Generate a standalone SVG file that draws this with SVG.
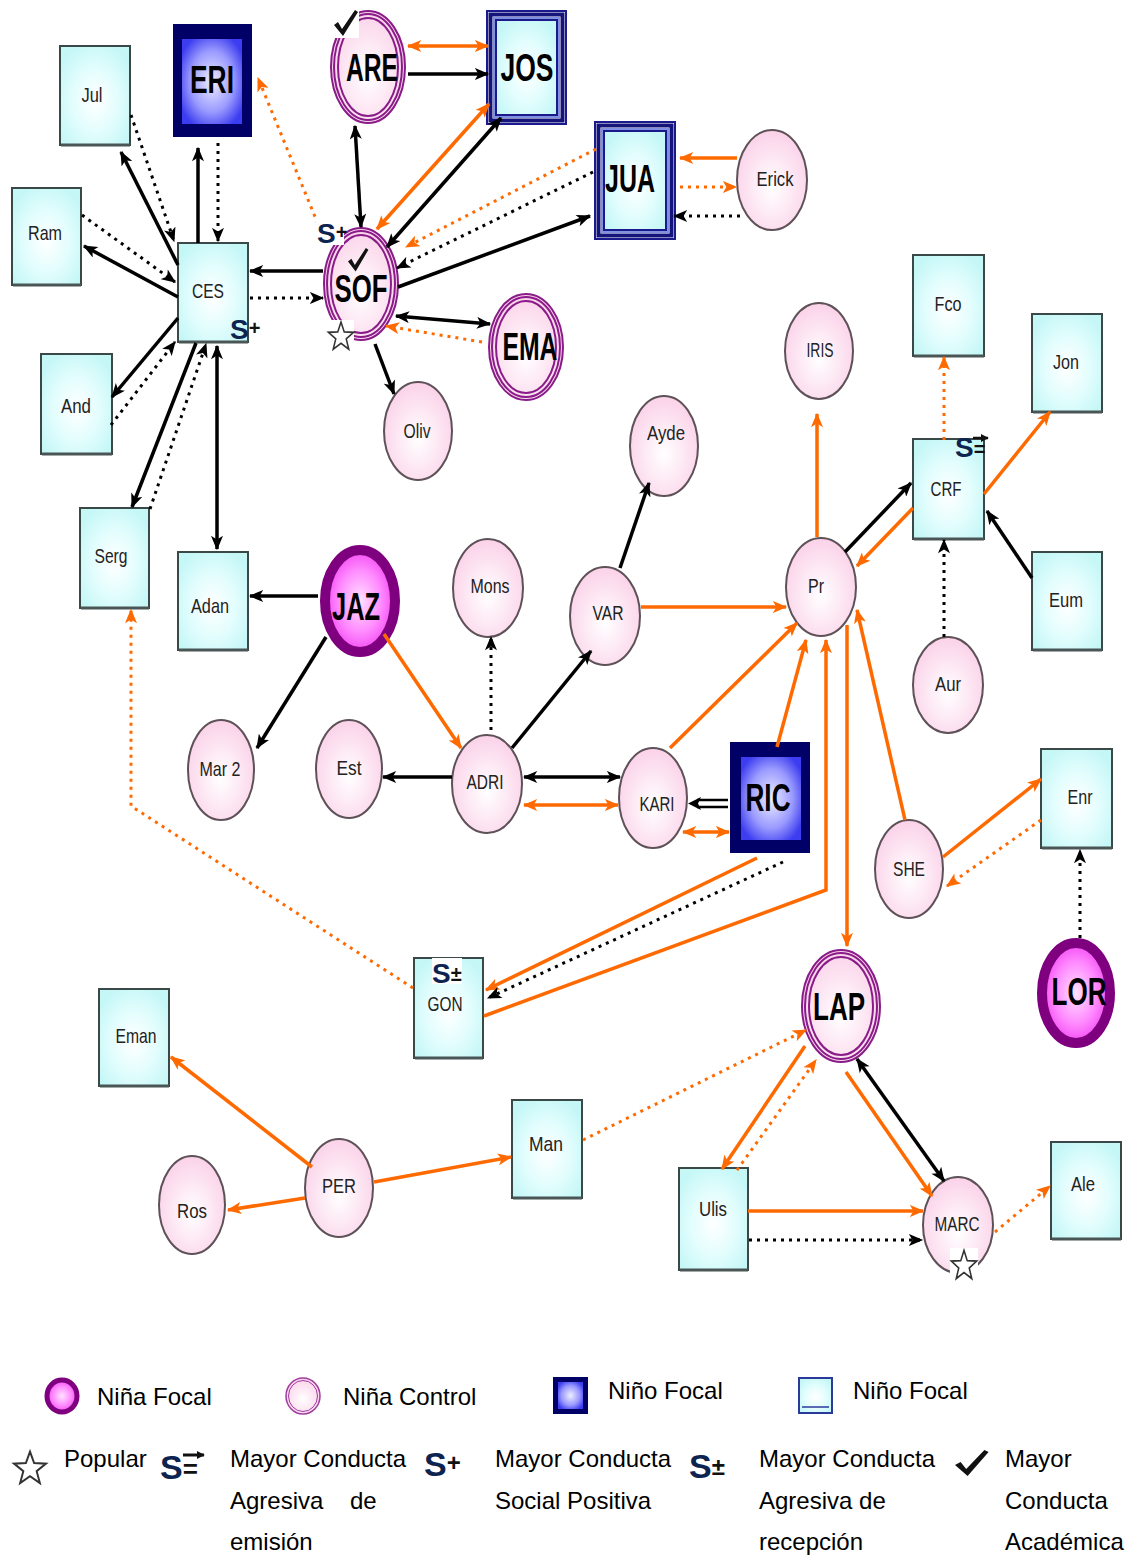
<svg xmlns="http://www.w3.org/2000/svg" xmlns:xlink="http://www.w3.org/1999/xlink" width="1133" height="1555" viewBox="0 0 1133 1555">
  <defs>
    <radialGradient id="gc" cx="50%" cy="55%" r="60%">
      <stop offset="0" stop-color="#ffffff"/>
      <stop offset="0.55" stop-color="#e2fdfd"/>
      <stop offset="1" stop-color="#c6f7f7"/>
    </radialGradient>
    <radialGradient id="gp" cx="50%" cy="58%" r="55%">
      <stop offset="0" stop-color="#ffffff"/>
      <stop offset="1" stop-color="#fbd4ea"/>
    </radialGradient>
    <radialGradient id="gm" cx="50%" cy="50%" r="55%">
      <stop offset="0" stop-color="#ffe2ff"/>
      <stop offset="0.55" stop-color="#ff8cff"/>
      <stop offset="1" stop-color="#f03cf0"/>
    </radialGradient>
    <radialGradient id="gn" cx="50%" cy="50%" r="60%">
      <stop offset="0" stop-color="#eeeeff"/>
      <stop offset="0.6" stop-color="#9a9aff"/>
      <stop offset="1" stop-color="#3c3cf0"/>
    </radialGradient>
    <marker id="ab" viewBox="0 0 12 10" refX="11" refY="5" markerWidth="15" markerHeight="12" markerUnits="userSpaceOnUse" orient="auto-start-reverse">
      <path d="M0,0 L12,5 L0,10 L3,5 z" fill="#000"/>
    </marker>
    <marker id="ao" viewBox="0 0 12 10" refX="11" refY="5" markerWidth="15" markerHeight="12" markerUnits="userSpaceOnUse" orient="auto-start-reverse">
      <path d="M0,0 L12,5 L0,10 L3,5 z" fill="#ff6a00"/>
    </marker>
    <marker id="as" viewBox="0 0 10 10" refX="9" refY="5" markerWidth="8" markerHeight="8" markerUnits="userSpaceOnUse" orient="auto">
      <path d="M0,0 L10,5 L0,10 z" fill="#111"/>
    </marker>
    <polygon id="star" points="0,-12 2.94,-4.05 11.41,-3.71 4.76,1.55 7.05,9.71 0,5 -7.05,9.71 -4.76,1.55 -11.41,-3.71 -2.94,-4.05" fill="#fff" stroke="#333" stroke-width="1.4" stroke-linejoin="miter"/>
    <path id="chk" d="M0,15 L4,12 L8,19 L21,0 L24,2 L9,26 Z" fill="#111"/>
    <style>
      .box rect.b { fill: url(#gc); stroke: #3b4848; stroke-width: 2; }
      .box line { stroke: #4a5555; stroke-width: 3; }
      .ctl ellipse { fill: url(#gp); stroke: #5e5258; stroke-width: 2; }
      .dbl ellipse { fill: none; stroke: #8a1c8a; stroke-width: 2; }
      .dbl ellipse.f { fill: url(#gp); }
      .foc ellipse { fill: url(#gm); stroke: #7f007f; stroke-width: 10; }
      .navy rect.o { fill: #000066; }
      .navy rect.i { fill: url(#gn); }
      .lbl { font-family: "Liberation Sans", Arial, sans-serif; font-size: 21px; fill: #222; text-anchor: middle; }
      .big { font-family: "Liberation Sans", Arial, sans-serif; font-weight: bold; font-size: 38px; fill: #000; text-anchor: middle; }
      .leg { font-family: "Liberation Sans", Arial, sans-serif; font-size: 24px; fill: #000; }
      .sg { font-family: "Liberation Sans", Arial, sans-serif; font-weight: bold; font-size: 28px; fill: #0d2350; }
      .sgl { font-size: 34px; }
      .sm { font-family: "Liberation Sans", Arial, sans-serif; font-weight: bold; font-size: 20px; fill: #111; }
      .sa { fill: none; stroke: #111; stroke-width: 2.5; marker-end: url(#as); }
      .k { fill: none; stroke: #000; stroke-width: 3.5; marker-end: url(#ab); }
      .kd { fill: none; stroke: #000; stroke-width: 3; stroke-dasharray: 3 5; marker-end: url(#ab); }
      .r { fill: none; stroke: #ff6a00; stroke-width: 3.5; marker-end: url(#ao); }
      .rd { fill: none; stroke: #ff6a00; stroke-width: 3; stroke-dasharray: 3 5; marker-end: url(#ao); }
      .k2 { marker-start: url(#ab); }
      .r2 { marker-start: url(#ao); }
    </style>
  </defs>

  <rect x="0" y="0" width="1133" height="1555" fill="#fff"/>

  <!-- boys (control): light cyan boxes -->
  <g id="n-jul" class="box"><rect class="b" x="60" y="46" width="70" height="99"/><line x1="61" y1="145" x2="130" y2="145"/><text class="lbl" x="92" y="102" textLength="21" lengthAdjust="spacingAndGlyphs">Jul</text></g>
  <g id="n-ram" class="box"><rect class="b" x="12" y="188" width="69" height="97"/><line x1="13" y1="285" x2="81" y2="285"/><text class="lbl" x="45" y="240" textLength="34" lengthAdjust="spacingAndGlyphs">Ram</text></g>
  <g id="n-ces" class="box"><rect class="b" x="178" y="243" width="70" height="99"/><line x1="179" y1="342" x2="248" y2="342"/><text class="lbl" x="208" y="298" textLength="32" lengthAdjust="spacingAndGlyphs">CES</text></g>
  <g id="n-and" class="box"><rect class="b" x="41" y="354" width="71" height="100"/><line x1="42" y1="454" x2="112" y2="454"/><text class="lbl" x="76" y="413" textLength="30" lengthAdjust="spacingAndGlyphs">And</text></g>
  <g id="n-serg" class="box"><rect class="b" x="80" y="508" width="69" height="100"/><line x1="81" y1="608" x2="149" y2="608"/><text class="lbl" x="111" y="563" textLength="33" lengthAdjust="spacingAndGlyphs">Serg</text></g>
  <g id="n-adan" class="box"><rect class="b" x="178" y="552" width="70" height="98"/><line x1="179" y1="650" x2="248" y2="650"/><text class="lbl" x="210" y="613" textLength="38" lengthAdjust="spacingAndGlyphs">Adan</text></g>
  <g id="n-fco" class="box"><rect class="b" x="913" y="255" width="71" height="101"/><line x1="914" y1="356" x2="984" y2="356"/><text class="lbl" x="948" y="311" textLength="27" lengthAdjust="spacingAndGlyphs">Fco</text></g>
  <g id="n-jon" class="box"><rect class="b" x="1032" y="314" width="70" height="98"/><line x1="1033" y1="412" x2="1102" y2="412"/><text class="lbl" x="1066" y="369" textLength="26" lengthAdjust="spacingAndGlyphs">Jon</text></g>
  <g id="n-crf" class="box"><rect class="b" x="913" y="439" width="71" height="100"/><line x1="914" y1="539" x2="984" y2="539"/><text class="lbl" x="946" y="496" textLength="31" lengthAdjust="spacingAndGlyphs">CRF</text></g>
  <g id="n-eum" class="box"><rect class="b" x="1032" y="552" width="70" height="98"/><line x1="1033" y1="650" x2="1102" y2="650"/><text class="lbl" x="1066" y="607" textLength="34" lengthAdjust="spacingAndGlyphs">Eum</text></g>
  <g id="n-enr" class="box"><rect class="b" x="1041" y="749" width="71" height="99"/><line x1="1042" y1="848" x2="1112" y2="848"/><text class="lbl" x="1080" y="804" textLength="25" lengthAdjust="spacingAndGlyphs">Enr</text></g>
  <g id="n-gon" class="box"><rect class="b" x="414" y="958" width="69" height="100"/><line x1="415" y1="1058" x2="483" y2="1058"/><text class="lbl" x="445" y="1011" textLength="35" lengthAdjust="spacingAndGlyphs">GON</text></g>
  <g id="n-eman" class="box"><rect class="b" x="99" y="989" width="70" height="97"/><line x1="100" y1="1086" x2="169" y2="1086"/><text class="lbl" x="136" y="1043" textLength="41" lengthAdjust="spacingAndGlyphs">Eman</text></g>
  <g id="n-man" class="box"><rect class="b" x="512" y="1100" width="70" height="98"/><line x1="513" y1="1198" x2="582" y2="1198"/><text class="lbl" x="546" y="1151" textLength="34" lengthAdjust="spacingAndGlyphs">Man</text></g>
  <g id="n-ulis" class="box"><rect class="b" x="679" y="1168" width="69" height="102"/><line x1="680" y1="1270" x2="748" y2="1270"/><text class="lbl" x="713" y="1216" textLength="28" lengthAdjust="spacingAndGlyphs">Ulis</text></g>
  <g id="n-ale" class="box"><rect class="b" x="1051" y="1142" width="70" height="97"/><line x1="1052" y1="1239" x2="1121" y2="1239"/><text class="lbl" x="1083" y="1191" textLength="24" lengthAdjust="spacingAndGlyphs">Ale</text></g>

  <!-- boys (focal): navy boxes -->
  <g id="n-eri" class="navy"><rect class="o" x="173" y="24" width="79" height="113"/><rect class="i" x="182" y="39" width="60" height="85"/><text class="big" x="212" y="93" textLength="44" lengthAdjust="spacingAndGlyphs">ERI</text></g>
  <g id="n-ric" class="navy"><rect class="o" x="730" y="742" width="80" height="111"/><rect class="i" x="741" y="757" width="60" height="83"/><text class="big" x="768" y="811" textLength="45" lengthAdjust="spacingAndGlyphs">RIC</text></g>

  <!-- boys (focal): double blue frame -->
  <g id="n-jos">
    <rect x="487" y="11" width="79" height="113" fill="none" stroke="#1a1a8c" stroke-width="2"/>
    <rect x="490.5" y="14.5" width="72" height="106" fill="none" stroke="#14147a" stroke-width="4"/>
    <rect x="494" y="18" width="65" height="99" fill="none" stroke="#7f90e0" stroke-width="2"/>
    <rect x="496" y="20" width="61" height="95" fill="url(#gc)" stroke="#1a1a8c" stroke-width="2"/>
    <text class="big" x="527" y="81" textLength="53" lengthAdjust="spacingAndGlyphs">JOS</text>
  </g>
  <g id="n-jua">
    <rect x="595" y="122" width="80" height="117" fill="none" stroke="#1a1a8c" stroke-width="2"/>
    <rect x="598.5" y="125.5" width="73" height="110" fill="none" stroke="#14147a" stroke-width="4"/>
    <rect x="602" y="129" width="66" height="103" fill="none" stroke="#7f90e0" stroke-width="2"/>
    <rect x="604" y="131" width="62" height="99" fill="url(#gc)" stroke="#1a1a8c" stroke-width="2"/>
    <text class="big" x="630" y="192" textLength="50" lengthAdjust="spacingAndGlyphs">JUA</text>
  </g>

  <!-- girls (control): pink ellipses -->
  <g id="n-erick" class="ctl"><ellipse cx="772" cy="180" rx="35" ry="50"/><text class="lbl" x="775" y="186" textLength="37" lengthAdjust="spacingAndGlyphs">Erick</text></g>
  <g id="n-oliv" class="ctl"><ellipse cx="418" cy="431" rx="34" ry="49"/><text class="lbl" x="417" y="438" textLength="27" lengthAdjust="spacingAndGlyphs">Oliv</text></g>
  <g id="n-mons" class="ctl"><ellipse cx="488" cy="588" rx="35" ry="49"/><text class="lbl" x="490" y="593" textLength="39" lengthAdjust="spacingAndGlyphs">Mons</text></g>
  <g id="n-var" class="ctl"><ellipse cx="605" cy="616" rx="35" ry="49"/><text class="lbl" x="608" y="620" textLength="31" lengthAdjust="spacingAndGlyphs">VAR</text></g>
  <g id="n-ayde" class="ctl"><ellipse cx="664" cy="446" rx="34" ry="50"/><text class="lbl" x="666" y="440" textLength="38" lengthAdjust="spacingAndGlyphs">Ayde</text></g>
  <g id="n-iris" class="ctl"><ellipse cx="819" cy="351" rx="34" ry="48"/><text class="lbl" x="820" y="357" textLength="27" lengthAdjust="spacingAndGlyphs">IRIS</text></g>
  <g id="n-pr" class="ctl"><ellipse cx="821" cy="587" rx="35" ry="49"/><text class="lbl" x="816" y="593" textLength="16" lengthAdjust="spacingAndGlyphs">Pr</text></g>
  <g id="n-aur" class="ctl"><ellipse cx="948" cy="685" rx="35" ry="48"/><text class="lbl" x="948" y="691" textLength="26" lengthAdjust="spacingAndGlyphs">Aur</text></g>
  <g id="n-mar2" class="ctl"><ellipse cx="221" cy="770" rx="33" ry="50"/><text class="lbl" x="220" y="776" textLength="41" lengthAdjust="spacingAndGlyphs">Mar 2</text></g>
  <g id="n-est" class="ctl"><ellipse cx="349" cy="769" rx="33" ry="49"/><text class="lbl" x="349" y="775" textLength="25" lengthAdjust="spacingAndGlyphs">Est</text></g>
  <g id="n-adri" class="ctl"><ellipse cx="487" cy="784" rx="35" ry="49"/><text class="lbl" x="485" y="789" textLength="37" lengthAdjust="spacingAndGlyphs">ADRI</text></g>
  <g id="n-kari" class="ctl"><ellipse cx="653" cy="798" rx="34" ry="50"/><text class="lbl" x="657" y="811" textLength="35" lengthAdjust="spacingAndGlyphs">KARI</text></g>
  <g id="n-she" class="ctl"><ellipse cx="909" cy="869" rx="34" ry="49"/><text class="lbl" x="909" y="876" textLength="32" lengthAdjust="spacingAndGlyphs">SHE</text></g>
  <g id="n-per" class="ctl"><ellipse cx="339" cy="1188" rx="34" ry="49"/><text class="lbl" x="339" y="1193" textLength="34" lengthAdjust="spacingAndGlyphs">PER</text></g>
  <g id="n-ros" class="ctl"><ellipse cx="192" cy="1205" rx="33" ry="49"/><text class="lbl" x="192" y="1218" textLength="30" lengthAdjust="spacingAndGlyphs">Ros</text></g>
  <g id="n-marc" class="ctl"><ellipse cx="958" cy="1225" rx="35" ry="48"/><text class="lbl" x="957" y="1231" textLength="45" lengthAdjust="spacingAndGlyphs">MARC</text></g>

  <!-- girls with triple purple rings -->
  <g id="n-are" class="dbl"><ellipse class="f" cx="368" cy="67" rx="37" ry="56"/><ellipse cx="368" cy="67" rx="34" ry="53"/><ellipse cx="368" cy="67" rx="30" ry="49"/><text class="big" x="372" y="81" textLength="52" lengthAdjust="spacingAndGlyphs">ARE</text></g>
  <g id="n-sof" class="dbl"><ellipse class="f" cx="361" cy="284" rx="37" ry="56"/><ellipse cx="361" cy="284" rx="34" ry="53"/><ellipse cx="361" cy="284" rx="30" ry="49"/><text class="big" x="361" y="302" textLength="53" lengthAdjust="spacingAndGlyphs">SOF</text></g>
  <g id="n-ema" class="dbl"><ellipse class="f" cx="526" cy="347" rx="37" ry="53"/><ellipse cx="526" cy="347" rx="34" ry="50"/><ellipse cx="526" cy="347" rx="30" ry="46"/><text class="big" x="530" y="360" textLength="55" lengthAdjust="spacingAndGlyphs">EMA</text></g>
  <g id="n-lap" class="dbl"><ellipse class="f" cx="841" cy="1006" rx="39" ry="56"/><ellipse cx="841" cy="1006" rx="36" ry="53"/><ellipse cx="841" cy="1006" rx="32" ry="49"/><text class="big" x="839" y="1020" textLength="52" lengthAdjust="spacingAndGlyphs">LAP</text></g>

  <!-- girls (focal): magenta with heavy ring -->
  <g id="n-jaz" class="foc"><ellipse cx="360" cy="601" rx="35" ry="51"/><text class="big" x="356" y="620" textLength="48" lengthAdjust="spacingAndGlyphs">JAZ</text></g>
  <g id="n-lor" class="foc"><ellipse cx="1076" cy="993" rx="34" ry="50"/><text class="big" x="1079" y="1005" textLength="55" lengthAdjust="spacingAndGlyphs">LOR</text></g>

  <!-- connectors -->
  <g id="connectors">
    <path class="k" d="M178,265 L121,152"/>
    <path class="kd" d="M131,115 L174,241"/>
    <path class="k" d="M198,243 L198,148"/>
    <path class="kd" d="M218,143 L218,241"/>
    <path class="rd" d="M318,224 L258,78"/>
    <path class="kd" d="M82,215 L175,282"/>
    <path class="k" d="M178,297 L84,246"/>
    <path class="k" d="M178,318 L112,397"/>
    <path class="kd" d="M111,425 L175,342"/>
    <path class="k" d="M196,343 L132,507"/>
    <path class="kd" d="M150,509 L206,344"/>
    <path class="k k2" d="M217,346 L217,549"/>
    <path class="k" d="M323,271 L250,271"/>
    <path class="kd" d="M250,298 L323,298"/>
    <path class="k k2" d="M355,126 L361,227"/>
    <path class="r r2" d="M408,46 L488,46"/>
    <path class="k" d="M408,74 L488,74"/>
    <path class="r r2" d="M377,229 L489,104"/>
    <path class="k k2" d="M387,247 L501,118"/>
    <path class="rd" d="M596,149 L406,247"/>
    <path class="kd" d="M593,172 L397,268"/>
    <path class="k" d="M398,287 L590,216"/>
    <path class="r" d="M737,158 L680,158"/>
    <path class="rd" d="M680,187 L736,187"/>
    <path class="kd" d="M740,216 L674,216"/>
    <path class="k k2" d="M396,316 L490,324"/>
    <path class="rd" d="M482,342 L386,326"/>
    <path class="k" d="M375,344 L394,394"/>
    <path class="k" d="M318,596 L250,596"/>
    <path class="k" d="M326,637 L257,748"/>
    <path class="r" d="M384,634 L461,748"/>
    <path class="kd" d="M491,730 L491,637"/>
    <path class="k" d="M512,748 L591,651"/>
    <path class="k" d="M620,568 L649,483"/>
    <path class="r" d="M641,607 L786,607"/>
    <path class="k" d="M452,777 L383,777"/>
    <path class="k k2" d="M524,777 L620,777"/>
    <path class="r r2" d="M524,805 L618,805"/>
    <path d="M728,800 L697,800 M728,807 L697,807" fill="none" stroke="#000" stroke-width="2.5"/>
    <polygon points="688,803.5 701,797 698,803.5 701,810" fill="#000"/>
    <path class="r r2" d="M683,832 L729,832"/>
    <path class="r" d="M670,748 L797,623"/>
    <path class="r" d="M777,747 L806,640"/>
    <path class="r" d="M817,537 L817,414"/>
    <path class="k" d="M845,552 L911,483"/>
    <path class="r" d="M913,508 L857,566"/>
    <path class="rd" d="M944,440 L944,357"/>
    <path class="r" d="M984,494 L1050,412"/>
    <path class="k" d="M1032,578 L987,511"/>
    <path class="kd" d="M944,637 L944,540"/>
    <path class="r" d="M905,820 L857,610"/>
    <path class="r" d="M847,625 L847,946"/>
    <path class="r" d="M484,1016 L826,890 L826,640"/>
    <path class="r" d="M757,858 L486,990"/>
    <path class="kd" d="M783,862 L488,998"/>
    <path class="rd" d="M413,988 L131,806 L131,610"/>
    <path class="r" d="M943,857 L1041,779"/>
    <path class="rd" d="M1041,820 L947,886"/>
    <path class="kd" d="M1080,938 L1080,850"/>
    <path class="r" d="M312,1167 L171,1057"/>
    <path class="r" d="M305,1198 L228,1210"/>
    <path class="r" d="M374,1182 L511,1157"/>
    <path class="rd" d="M583,1140 L806,1030"/>
    <path class="r" d="M805,1046 L722,1169"/>
    <path class="rd" d="M737,1170 L816,1060"/>
    <path class="r" d="M846,1072 L932,1196"/>
    <path class="k k2" d="M857,1059 L944,1181"/>
    <path class="r" d="M748,1211 L923,1211"/>
    <path class="kd" d="M749,1240 L922,1240"/>
    <path class="rd" d="M995,1232 L1050,1186"/>
  </g>

  <!-- behaviour marks on nodes -->
  <g id="marks">
    <rect x="333" y="9" width="26" height="29" fill="#fff"/>
    <use xlink:href="#chk" x="334" y="10"/>
    <use xlink:href="#chk" transform="translate(348,248) scale(0.85,0.9)"/>
    <rect x="328" y="320" width="26" height="32" fill="#fff"/>
    <use xlink:href="#star" transform="translate(341,337) scale(1.1,1.25)"/>
    <rect x="950" y="1248" width="28" height="34" fill="#fff"/>
    <use xlink:href="#star" transform="translate(964,1266) scale(1.1,1.3)"/>
    <rect x="316" y="220" width="28" height="25" fill="#fff"/>
    <text class="sg" x="317" y="243">S<tspan class="sm" dy="-4">+</tspan></text>
    <text class="sg" x="230" y="339">S<tspan class="sm" dy="-4">+</tspan></text>
    <text class="sg" x="955" y="457">S<tspan class="sm" dy="-1">=</tspan></text>
    <path class="sa" d="M973,438 L988,438"/>
    <rect x="432" y="958" width="30" height="26" fill="#fff"/>
    <text class="sg" x="432" y="983">S<tspan class="sm" dy="-2">±</tspan></text>
  </g>

  <!-- legend -->
  <g id="legend">
    <ellipse cx="62" cy="1396" rx="15" ry="16" fill="url(#gm)" stroke="#7f007f" stroke-width="5"/>
    <text class="leg" x="97" y="1405">Niña Focal</text>
    <ellipse cx="303" cy="1396" rx="17" ry="18" fill="url(#gp)" stroke="#a03ca0" stroke-width="1.5"/>
    <ellipse cx="303" cy="1396" rx="14.5" ry="15.5" fill="none" stroke="#a03ca0" stroke-width="1"/>
    <text class="leg" x="343" y="1405">Niña Control</text>
    <rect x="553" y="1377" width="35" height="37" fill="#000066"/>
    <rect x="558" y="1382" width="25" height="27" fill="url(#gn)"/>
    <text class="leg" x="608" y="1399">Niño Focal</text>
    <rect x="799" y="1378" width="33" height="35" fill="url(#gc)" stroke="#2a3a9a" stroke-width="2"/>
    <line x1="802" y1="1407" x2="829" y2="1407" stroke="#2a3a9a" stroke-width="1.5"/>
    <text class="leg" x="853" y="1399">Niño Focal</text>

    <use xlink:href="#star" transform="translate(30,1469) scale(1.4,1.45)"/>
    <text class="leg" x="64" y="1467">Popular</text>
    <text class="sg sgl" x="160" y="1479">S<tspan class="sm" style="font-size:26px" dy="-1">=</tspan></text>
    <path class="sa" d="M183,1455 L204,1455" style="stroke-width:3"/>
    <text class="leg" x="230" y="1467">Mayor Conducta</text>
    <text class="leg" x="230" y="1509">Agresiva</text>
    <text class="leg" x="350" y="1509">de</text>
    <text class="leg" x="230" y="1550">emisión</text>
    <text class="sg sgl" x="424" y="1476">S<tspan class="sm" style="font-size:24px" dy="-5">+</tspan></text>
    <text class="leg" x="495" y="1467">Mayor Conducta</text>
    <text class="leg" x="495" y="1509">Social Positiva</text>
    <text class="sg sgl" x="689" y="1478">S<tspan class="sm" style="font-size:24px" dy="-3">±</tspan></text>
    <text class="leg" x="759" y="1467">Mayor Conducta</text>
    <text class="leg" x="759" y="1509">Agresiva de</text>
    <text class="leg" x="759" y="1550">recepción</text>
    <use xlink:href="#chk" transform="translate(955,1450) scale(1.4,1.0)"/>
    <text class="leg" x="1005" y="1467">Mayor</text>
    <text class="leg" x="1005" y="1509">Conducta</text>
    <text class="leg" x="1005" y="1550">Académica</text>
  </g>
</svg>
